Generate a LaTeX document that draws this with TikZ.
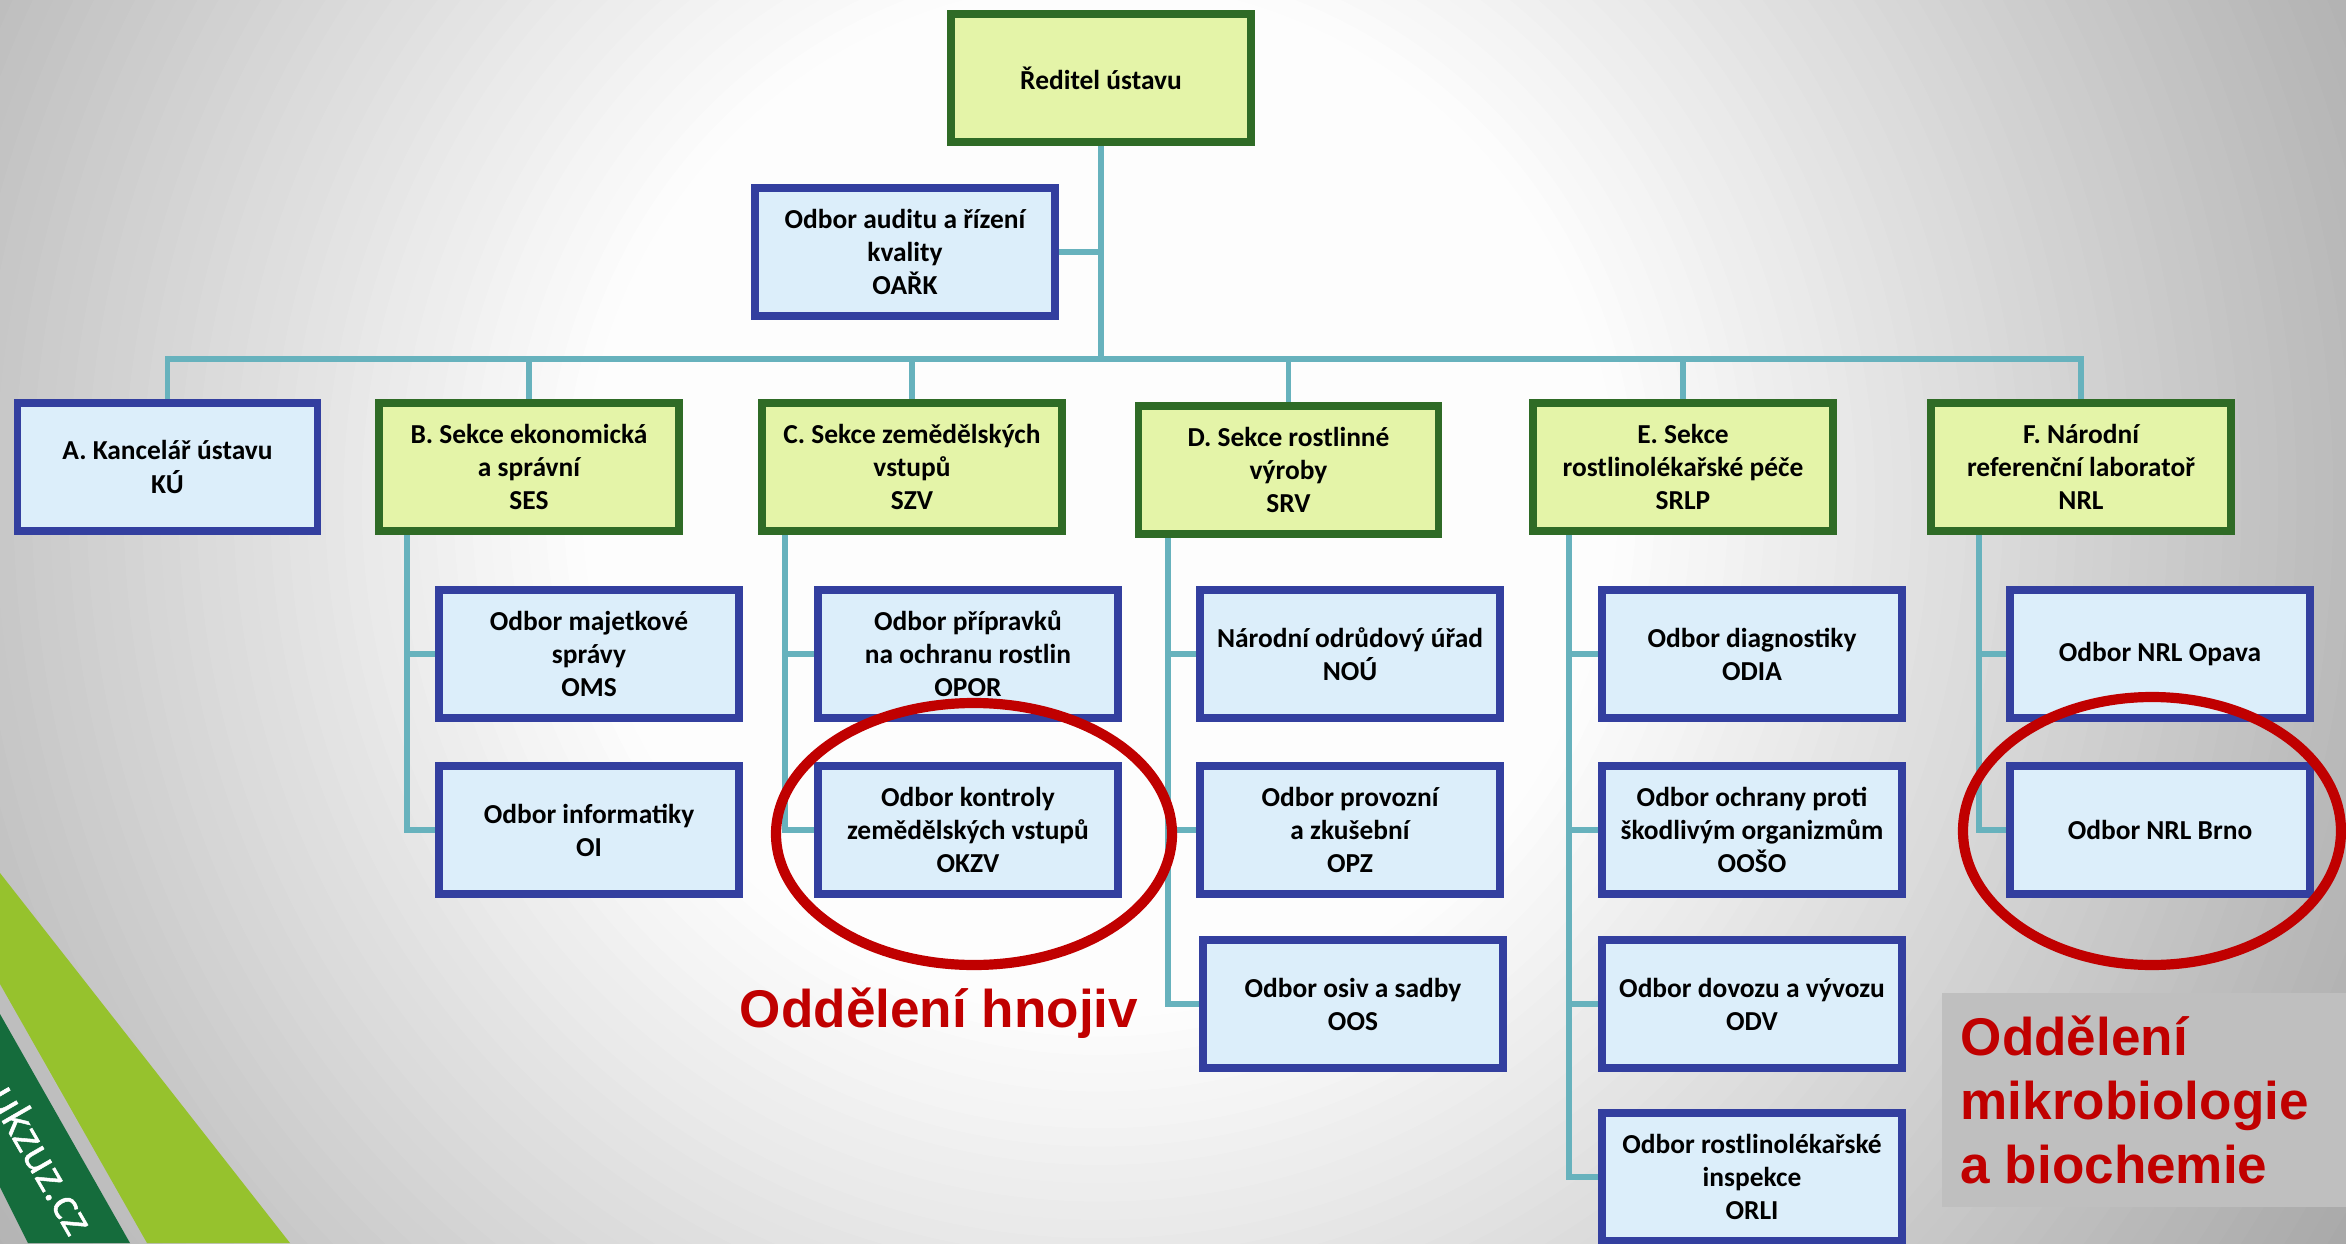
\documentclass[tikz,border=0pt]{standalone}
\usepackage{fontspec}
\setmainfont{Carlito}
\newfontfamily\arialfont{Liberation Sans}
\newfontfamily\webfont{Open Sans}[FakeBold=1.2]
\usetikzlibrary{backgrounds}

\definecolor{boxblue}{HTML}{333F9F}
\definecolor{fillblue}{HTML}{DCEEFA}
\definecolor{boxgreen}{HTML}{2F6B26}
\definecolor{fillgreen}{HTML}{E4F4A8}
\definecolor{linkteal}{HTML}{67B2BD}
\definecolor{markred}{HTML}{C00000}
\definecolor{stripelight}{HTML}{96C22D}
\definecolor{stripedark}{HTML}{156C3C}
\definecolor{notegrey}{HTML}{BFBFBF}

\begin{document}
\begin{tikzpicture}
\tikzstyle{unit}=[rectangle,draw=boxblue,fill=fillblue,line width=2.1pt,minimum width=3.0cm,minimum height=1.28cm,inner sep=1pt,align=center,font=\bfseries\fontsize{7.8pt}{9.4pt}\selectfont]
\tikzstyle{sect}=[unit,draw=boxgreen,fill=fillgreen]
\tikzstyle{link}=[draw=linkteal,line width=1.6pt]
\tikzstyle{ring}=[draw=markred,line width=2.9pt]
\tikzstyle{hint}=[text=markred,inner sep=0pt,font=\arialfont\bfseries\fontsize{15.1pt}{18.2pt}\selectfont]
\useasboundingbox (0,0) rectangle (23.46,12.43);
% head
\node[sect] (dir) at (11.01,11.65) {Ředitel ústavu};
\node[unit] (oark) at (9.05,9.91) {Odbor auditu a řízení\\kvality\\OAŘK};
% sections
\node[unit] (secA) at (1.675,7.76) {A. Kancelář ústavu\\KÚ};
\node[sect] (secB) at (5.29,7.76) {B. Sekce ekonomická\\a správní\\SES};
\node[sect] (secC) at (9.12,7.76) {C. Sekce zemědělských\\vstupů\\SZV};
\node[sect] (secD) at (12.885,7.73) {D. Sekce rostlinné\\výroby\\SRV};
\node[sect] (secE) at (16.83,7.76) {E. Sekce\\rostlinolékařské péče\\SRLP};
\node[sect] (secF) at (20.81,7.76) {F. Národní\\referenční laboratoř\\NRL};
% departments
\node[unit] (oms) at (5.89,5.89) {Odbor majetkové\\správy\\OMS};
\node[unit] (oi) at (5.89,4.13) {Odbor informatiky\\OI};
\node[unit] (opor) at (9.68,5.89) {Odbor přípravků\\na ochranu rostlin\\OPOR};
\node[unit] (okzv) at (9.68,4.13) {Odbor kontroly\\zemědělských vstupů\\OKZV};
\node[unit] (nou) at (13.50,5.89) {Národní odrůdový úřad\\NOÚ};
\node[unit] (opz) at (13.50,4.13) {Odbor provozní\\a zkušební\\OPZ};
\node[unit] (oos) at (13.53,2.39) {Odbor osiv a sadby\\OOS};
\node[unit] (odia) at (17.52,5.89) {Odbor diagnostiky\\ODIA};
\node[unit] (ooso) at (17.52,4.13) {Odbor ochrany proti\\škodlivým organizmům\\OOŠO};
\node[unit] (odv) at (17.52,2.39) {Odbor dovozu a vývozu\\ODV};
\node[unit] (orli) at (17.52,0.66) {Odbor rostlinolékařské\\inspekce\\ORLI};
\node[unit] (opava) at (21.60,5.89) {Odbor NRL Opava};
\node[unit] (brno) at (21.60,4.13) {Odbor NRL Brno};

\begin{scope}[on background layer]
\clip (0,0) rectangle (23.46,12.43);
% slide background, grey rim to white middle
\foreach \k in {0,...,59} {
  \pgfmathsetmacro{\rad}{16-\k*11/60}
  \pgfmathsetmacro{\tone}{39*(\rad-5)/11}
  \fill[black!\tone] (11,7.43) circle (\rad);
}
\fill[stripelight] (0,3.70) -- (2.90,0) -- (1.47,0) -- (0,2.59) -- cycle;
\fill[stripedark] (0,2.29) -- (1.30,0) -- (0.28,0) -- (0,0.56) -- cycle;
\node[rotate=-60,text=white,font=\webfont\fontsize{12pt}{14pt}\selectfont] (web) at (0.42,0.84) {ukzuz.cz};
% connectors
\coordinate (bus) at (11.01,8.84);
\draw[link] (dir.south) -- (bus);
\draw[link] (oark.east) -- (oark.east -| dir.south);
\foreach \s in {secA,secB,secC,secD,secE,secF}
  \draw[link] (\s.north) |- (bus);
\draw[link] ([xshift=-1.22cm]secB.south) |- (oms.west);
\draw[link] ([xshift=-1.22cm]secB.south) |- (oi.west);
\draw[link] ([xshift=-1.27cm]secC.south) |- (opor.west);
\draw[link] ([xshift=-1.27cm]secC.south) |- (okzv.west);
\draw[link] ([xshift=-1.205cm]secD.south) |- (nou.west);
\draw[link] ([xshift=-1.205cm]secD.south) |- (opz.west);
\draw[link] ([xshift=-1.205cm]secD.south) |- (oos.west);
\draw[link] ([xshift=-1.14cm]secE.south) |- (odia.west);
\draw[link] ([xshift=-1.14cm]secE.south) |- (ooso.west);
\draw[link] ([xshift=-1.14cm]secE.south) |- (odv.west);
\draw[link] ([xshift=-1.14cm]secE.south) |- (orli.west);
\draw[link] ([xshift=-1.02cm]secF.south) |- (opava.west);
\draw[link] ([xshift=-1.02cm]secF.south) |- (brno.west);
\end{scope}

% red marks
\draw[ring] (9.74,4.09) ellipse [x radius=1.98cm, y radius=1.31cm];
\draw[ring] (21.52,4.12) ellipse [x radius=1.89cm, y radius=1.34cm];
\node[hint,anchor=base] (hnojiv) at (9.39,2.16) {Oddělení hnojiv};
\fill[notegrey] (19.42,0.36) rectangle (23.46,2.50);
\node[hint,anchor=base west,align=left] (mikro) at (19.60,0.60) {Oddělení\\mikrobiologie\\a biochemie};
\end{tikzpicture}
\end{document}
